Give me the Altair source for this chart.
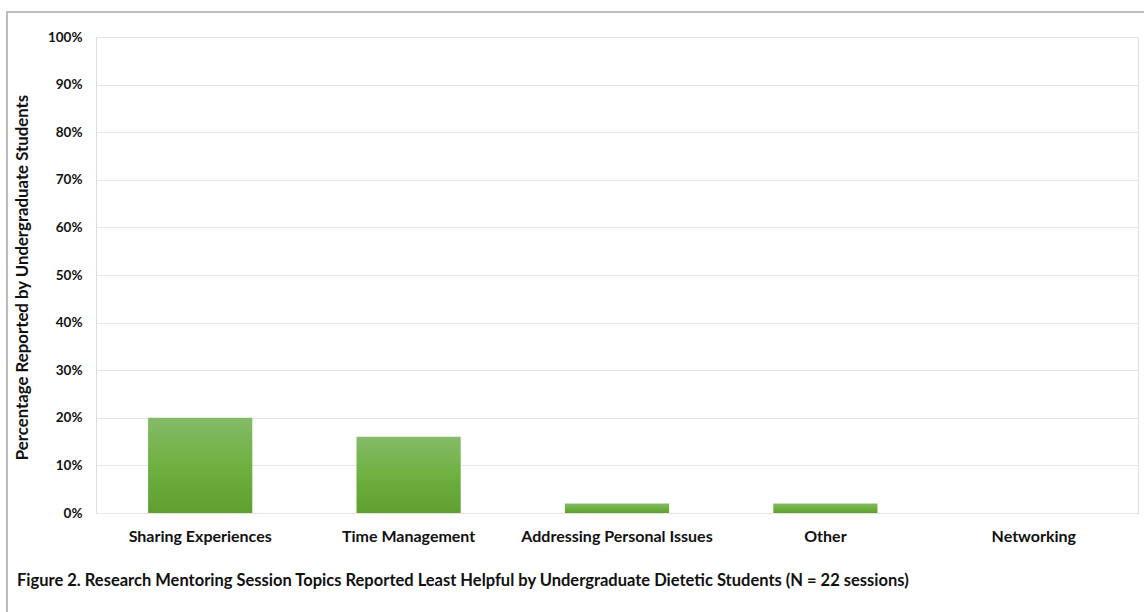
import altair as alt
import pandas as pd

# Session topics and share of undergraduate responses rating them least helpful
topics = [
    "Sharing Experiences",
    "Time Management",
    "Addressing Personal Issues",
    "Other",
    "Networking",
]
percent_least_helpful = [20, 16, 2, 2, 0]
y_ticks = [0, 10, 20, 30, 40, 50, 60, 70, 80, 90, 100]

caption = ("Figure 2. Research Mentoring Session Topics Reported Least Helpful "
           "by Undergraduate Dietetic Students (N = 22 sessions)")

FONT = "Lato"

df = pd.DataFrame({"topic": topics, "pct": percent_least_helpful})
cap_df = pd.DataFrame({"text": [caption]})

W, H = 1042, 476
PAD_L, PAD_T = 96, 37

green = alt.Gradient(
    gradient="linear",
    stops=[
        alt.GradientStop(color="#85ba68", offset=0),
        alt.GradientStop(color="#6eb140", offset=0.5),
        alt.GradientStop(color="#5f9f30", offset=1),
    ],
    x1=0, x2=0, y1=0, y2=1,
)

bars = alt.Chart(df).mark_bar(color=green).encode(
    x=alt.X(
        "topic:N",
        sort=topics,
        scale=alt.Scale(paddingInner=0.5, paddingOuter=0.25),
        axis=alt.Axis(
            title=None, labelAngle=0, ticks=False, domain=False,
            labelFont=FONT, labelFontSize=16, labelFontWeight="bold",
            labelColor="#111111", labelPadding=15, labelLimit=0,
        ),
    ),
    y=alt.Y(
        "pct:Q",
        scale=alt.Scale(domain=[0, 100]),
        axis=alt.Axis(
            values=y_ticks, labelExpr="datum.value + '%'",
            ticks=False, domain=False,
            grid=True, gridColor="#e4e4e8", gridWidth=1,
            labelFont=FONT, labelFontSize=13.5, labelFontWeight="bold",
            labelColor="#111111", labelPadding=14,
            title="Percentage Reported by Undergraduate Students",
            titleFont=FONT, titleFontSize=16.8, titleFontWeight="bold",
            titleColor="#111111", titleAngle=270,
            titleX=-74, titleY=H / 2 + 2, titleAlign="center",
            titleBaseline="middle",
        ),
    ),
)

# Outer frame around the figure
frame = alt.Chart(cap_df).mark_rect(
    fill=None, stroke="#a6a6a6", strokeWidth=1.5
).encode(
    x=alt.value(7 - PAD_L),
    x2=alt.value(1160 - PAD_L),
    y=alt.value(12 - PAD_T),
    y2=alt.value(640 - PAD_T),
)

# Figure caption below the axis
caption_text = alt.Chart(cap_df).mark_text(
    font=FONT, fontSize=16.5, fontWeight="bold", color="#111111",
    align="left", baseline="middle",
).encode(
    text="text:N",
    x=alt.value(17 - PAD_L),
    y=alt.value(581 - PAD_T),
)

chart = alt.layer(frame, bars, caption_text).properties(
    width=W,
    height=H,
    autosize=alt.AutoSizeParams(type="none"),
    padding={"left": PAD_L, "top": PAD_T, "right": 1144 - PAD_L - W,
             "bottom": 612 - PAD_T - H},
).configure_view(stroke=None).configure(background="white")

chart.save("out.html", embed_options={"renderer": "svg", "actions": False})
